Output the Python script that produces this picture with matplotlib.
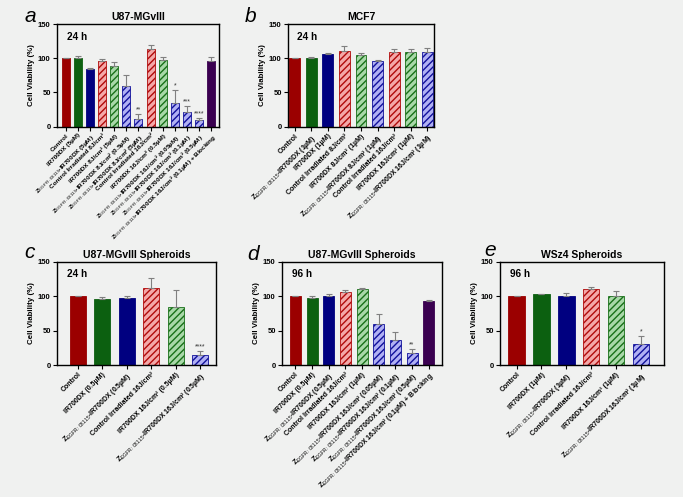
import numpy as np
import matplotlib
matplotlib.use("Agg")
import matplotlib.pyplot as plt

plt.rcParams['font.family'] = ['Liberation Sans', 'DejaVu Sans']
plt.rcParams['mathtext.fontset'] = 'custom'
plt.rcParams['mathtext.rm'] = 'Liberation Sans'
plt.rcParams['mathtext.bf'] = 'Liberation Sans:bold'
plt.rcParams['hatch.linewidth'] = 1.0

Z = r'Z$_{\mathrm{EGFR:03115}}$-IR700DX'

# --- datos ---
lab_a = ['Control', 'IR700DX (5µM)', Z + ' (5µM)', 'Control Irradiated 8J/cm²',
         'IR700DX 8J/cm² (5µM)', Z + ' 8J/cm² (0.5µM)', Z + ' 8J/cm² (5µM)',
         'Control Irradiated 16J/cm²', 'IR700DX 16J/cm² (0.5µM)',
         Z + ' 16J/cm² (0.05µM)', Z + ' 16J/cm² (0.1µM)', Z + ' 16J/cm² (0.5µM)',
         Z + ' 16J/cm² (0.1µM) + Blocking']
val_a = [100, 100, 84, 97, 89, 60, 11, 114, 98, 35, 22, 9, 97]
err_a = [0.5, 3, 2, 2, 6, 16, 8, 6, 4, 18, 8, 3, 5]
sig_a = {6: '**', 9: '*', 10: '***', 11: '****'}

lab_b = ['Control', Z + ' (1µM)', 'IR700DX (1µM)', 'Control Irradiated 8J/cm²',
         'IR700DX 8J/cm² (1µM)', Z + ' 8J/cm² (1µM)', 'Control Irradiated 16J/cm²',
         'IR700DX 16J/cm² (1µM)', Z + ' 16J/cm² (1µM)']
val_b = [100, 101, 107, 111, 105, 97, 110, 109, 109]
err_b = [0.5, 1.5, 1, 7, 3, 1, 4, 5, 7]
sig_b = {}

lab_c = ['Control', 'IR700DX (0.5µM)', Z + ' (0.5µM)', 'Control Irradiated 16J/cm²',
         'IR700DX 16J/cm² (0.5µM)', Z + ' 16J/cm² (0.5µM)']
val_c = [100, 96, 98, 112, 84, 15]
err_c = [0.5, 3, 2, 15, 25, 6]
sig_c = {5: '****'}

lab_d = ['Control', 'IR700DX (0.5µM)', Z + ' (0.5µM)', 'Control Irradiated 16J/cm²',
         'IR700DX 16J/cm² (1µM)', Z + ' 16J/cm² (0.05µM)', Z + ' 16J/cm² (0.1µM)',
         Z + ' 16J/cm² (0.5µM)', Z + ' 16J/cm² (0.1µM) + Blocking']
val_d = [100, 98, 100, 107, 110, 59, 37, 17, 93]
err_d = [0.5, 2, 3, 2, 2, 15, 11, 6, 1]
sig_d = {7: '**'}

lab_e = ['Control', 'IR700DX (1µM)', Z + ' (1µM)', 'Control Irradiated 16J/cm²',
         'IR700DX 16J/cm³ (1µM)', Z + ' 16J/cm² (1µM)']
val_e = [100, 103, 101, 110, 101, 31]
err_e = [0.5, 0.5, 4, 4, 7, 11]
sig_e = {5: '*'}

# estilos de barra
estilos = {
    'r': ('#9b0000', '#9b0000', None),
    'g': ('#0c6010', '#0c6010', None),
    'b': ('#000080', '#000080', None),
    'rh': ('#f4a8a8', '#b00a0a', '/////'),
    'gh': ('#a8d8a8', '#187018', '/////'),
    'bh': ('#b0b0f4', '#10109a', '/////'),
    'p': ('#3a0050', '#3a0050', None),
}
col_a = ['r', 'g', 'b', 'rh', 'gh', 'bh', 'bh', 'rh', 'gh', 'bh', 'bh', 'bh', 'p']
col_b = ['r', 'g', 'b', 'rh', 'gh', 'bh', 'rh', 'gh', 'bh']
col_c = ['r', 'g', 'b', 'rh', 'gh', 'bh']
col_d = ['r', 'g', 'b', 'rh', 'gh', 'bh', 'bh', 'bh', 'p']
col_e = ['r', 'g', 'b', 'rh', 'gh', 'bh']

fondo = '#f0f1f0'


def panel(ax, labels, vals, errs, cols, sig, titulo, tiempo, xlim, fs=5):
    x = np.arange(len(vals))
    for i in range(len(vals)):
        fc, ec, h = estilos[cols[i]]
        ax.bar(x[i], vals[i], width=0.66, color=fc, edgecolor=ec, hatch=h,
               linewidth=0.6, zorder=2)
    ax.errorbar(x, vals, yerr=[np.zeros(len(errs)), errs], fmt='none',
                ecolor='#808080', elinewidth=0.8, capsize=2, capthick=0.8, zorder=3)
    for i, s in sig.items():
        ax.text(x[i], vals[i] + errs[i] + 1, s, ha='center', va='bottom',
                fontsize=5, color='#333333')
    ax.set_ylim(0, 150)
    ax.set_xlim(*xlim)
    ax.set_yticks([0, 50, 100, 150])
    ax.set_xticks(x)
    ax.set_xticklabels(labels, rotation=45, ha='right', rotation_mode='anchor',
                       fontsize=fs, fontweight='bold')
    for t in ax.get_yticklabels():
        t.set_fontweight('bold')
    ax.tick_params(axis='y', labelsize=5.5, length=3, width=0.8, pad=1.5)
    ax.tick_params(axis='x', length=3, width=0.8, pad=1.5)
    ax.set_ylabel('Cell Viability (%)', fontsize=5.7, fontweight='bold', labelpad=2)
    ax.set_title(titulo, fontsize=7.5, fontweight='bold', pad=3)
    ax.text(0.06, 0.93, tiempo, transform=ax.transAxes, ha='left', va='top',
            fontsize=7.2, fontweight='bold')
    ax.set_facecolor(fondo)
    for sp in ax.spines.values():
        sp.set_linewidth(1.0)


fig = plt.figure(figsize=(6.83, 4.97), dpi=100, facecolor=fondo)
W, H = 683.0, 497.0


def caja(x0, x1, y0, y1):
    return fig.add_axes([x0 / W, 1 - y1 / H, (x1 - x0) / W, (y1 - y0) / H])


ax_a = caja(57, 219, 24.5, 126.5)
ax_b = caja(288, 434, 24.5, 126.5)
ax_c = caja(57, 216, 262, 365)
ax_d = caja(282, 442, 262, 365)
ax_e = caja(500, 664, 262, 365)

panel(ax_a, lab_a, val_a, err_a, col_a, sig_a, 'U87-MGvIII', '24 h', (-0.74, 12.66), fs=4.6)
panel(ax_b, lab_b, val_b, err_b, col_b, sig_b, 'MCF7', '24 h', (-0.4, 8.4))
panel(ax_c, lab_c, val_c, err_c, col_c, sig_c, 'U87-MGvIII Spheroids', '24 h', (-0.85, 5.65))
panel(ax_d, lab_d, val_d, err_d, col_d, sig_d, 'U87-MGvIII Spheroids', '96 h', (-0.8, 8.8))
panel(ax_e, lab_e, val_e, err_e, col_e, sig_e, 'WSz4 Spheroids', '96 h', (-0.67, 5.93))

for letra, px, py in [('a', 30, 17), ('b', 251, 17), ('c', 30, 252), ('d', 253, 254), ('e', 490, 251)]:
    fig.text(px / W, 1 - py / H, letra, fontsize=15, fontstyle='italic',
             ha='center', va='center')

fig.savefig('out.png', dpi=100, facecolor=fondo)
